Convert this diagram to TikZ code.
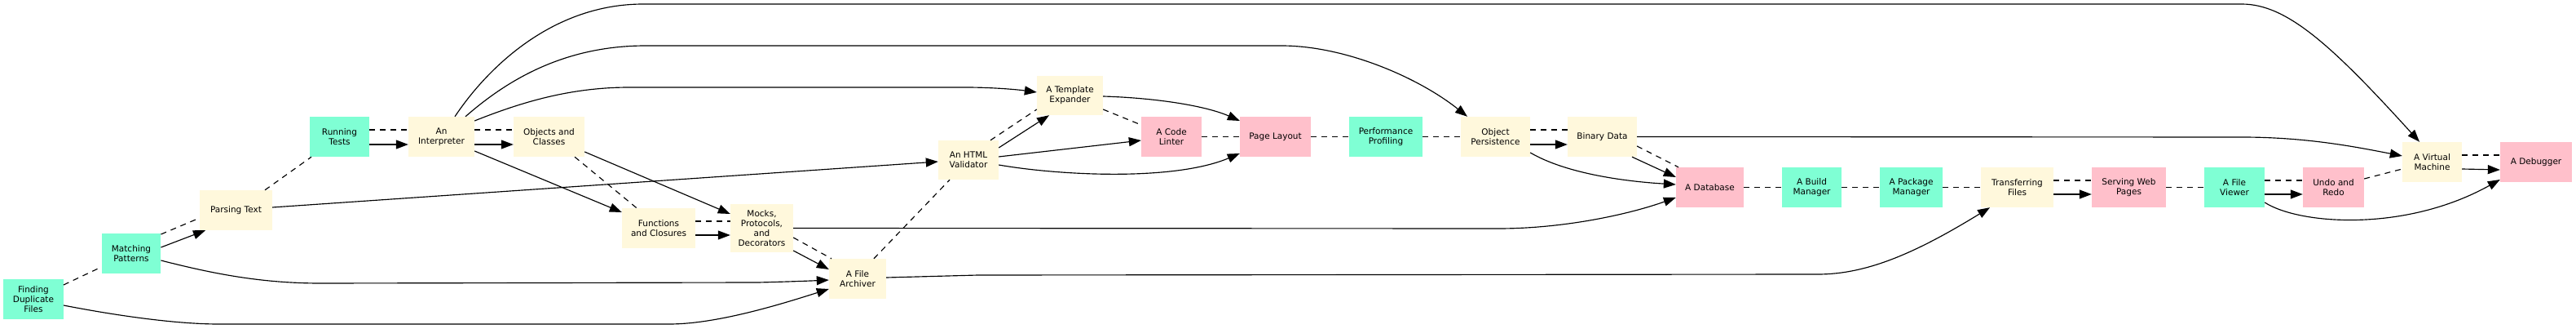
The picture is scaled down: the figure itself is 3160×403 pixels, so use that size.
\documentclass[tikz,border=0pt]{standalone}
\usepackage{fontspec}
\setmainfont{DejaVu Sans}
\usetikzlibrary{arrows.meta}
\definecolor{aqua}{HTML}{7FFFD4}
\definecolor{corn}{HTML}{FFF8DC}
\definecolor{pinkc}{HTML}{FFC0CB}
\begin{document}
\begin{tikzpicture}[x=1pt,y=-1pt,
  box/.style={rectangle, inner sep=0pt, minimum height=49pt, align=center, font=\fontsize{10.5}{12}\selectfont, text=black},
  aq/.style={box, fill=aqua},
  cs/.style={box, fill=corn},
  pk/.style={box, fill=pinkc},
  arr/.style={line width=1.15pt, -{Triangle[length=15pt,width=11pt]}},
  dsh/.style={line width=1.15pt, dash pattern=on 7pt off 6pt}]
\useasboundingbox (0,0) rectangle (3160,403);
% nodes
\node[aq, minimum width=73.5pt] (fdf) at (41,366.5) {Finding\\Duplicate\\Files};
\node[aq, minimum width=72.5pt] (mp) at (161,310.5) {Matching\\Patterns};
\node[cs, minimum width=89pt] (pt) at (289.5,257.5) {Parsing Text};
\node[aq, minimum width=73pt] (rt) at (416.5,167.5) {Running\\Tests};
\node[cs, minimum width=81pt] (ai) at (541.5,167.5) {An\\Interpreter};
\node[cs, minimum width=87pt] (oc) at (673.5,167.5) {Objects and\\Classes};
\node[cs, minimum width=90pt] (fc) at (808,279.5) {Functions\\and Closures};
\node[cs, minimum width=77pt, minimum height=59pt] (mk) at (934.5,279.5) {Mocks,\\Protocols,\\and\\Decorators};
\node[cs, minimum width=70pt] (fa) at (1052,341.5) {A File\\Archiver};
\node[cs, minimum width=74pt, minimum height=48pt] (html) at (1188,196) {An HTML\\Validator};
\node[cs, minimum width=81pt, minimum height=48pt] (te) at (1312.5,117) {A Template\\Expander};
\node[pk, minimum width=74pt] (cl) at (1437,167.5) {A Code\\Linter};
\node[pk, minimum width=87pt] (pl) at (1564.5,167.5) {Page Layout};
\node[aq, minimum width=90pt] (pp) at (1700,167.5) {Performance\\Profiling};
\node[cs, minimum width=85pt] (op) at (1834.5,167.5) {Object\\Persistence};
\node[cs, minimum width=85pt] (bd) at (1965.5,167.5) {Binary Data};
\node[pk, minimum width=83pt] (db) at (2097.5,229.5) {A Database};
\node[aq, minimum width=73pt] (bm) at (2222.5,229.5) {A Build\\Manager};
\node[aq, minimum width=77pt] (pm) at (2344.5,229.5) {A Package\\Manager};
\node[cs, minimum width=89pt] (tf) at (2474.5,229.5) {Transferring\\Files};
\node[pk, minimum width=91pt] (sw) at (2611.5,229.5) {Serving Web\\Pages};
\node[aq, minimum width=74pt] (fv) at (2741,229.5) {A File\\Viewer};
\node[pk, minimum width=75pt] (ur) at (2862.5,229.5) {Undo and\\Redo};
\node[cs, minimum width=73pt] (vm) at (2983.5,198.5) {A Virtual\\Machine};
\node[pk, minimum width=88pt] (dbg) at (3111,198.5) {A Debugger};
% dashed links
\draw[dsh] ([yshift=17.5pt]fdf.east) -- ([yshift=-16.5pt]mp.west);
\draw[dsh] ([yshift=23.5pt]mp.east) -- ([yshift=-9.5pt]pt.west);
\draw[dsh] ([xshift=35.5pt]pt.north) -- ([xshift=-34.5pt]rt.south);
\draw[dsh] ([yshift=8.5pt]rt.east) -- ([yshift=8.5pt]ai.west);
\draw[dsh] ([yshift=8.5pt]ai.east) -- ([yshift=8.5pt]oc.west);
\draw[dsh] ([xshift=31.5pt]oc.south) -- ([xshift=-27pt]fc.north);
\draw[dsh] ([yshift=8.5pt]fc.east) -- ([yshift=8.5pt]mk.west);
\draw[dsh] ([yshift=-11.5pt]mk.east) -- ([xshift=-32pt]fa.north);
\draw[dsh] ([xshift=20pt]fa.north) -- ([xshift=-23pt]html.south);
\draw[dsh] ([xshift=27pt]html.north) -- ([yshift=-17pt]te.west);
\draw[dsh] ([yshift=-17pt]te.east) -- ([yshift=14.5pt]cl.west);
\draw[dsh] (cl.east) -- (pl.west);
\draw[dsh] (pl.east) -- (pp.west);
\draw[dsh] (pp.east) -- (op.west);
\draw[dsh] ([yshift=8.5pt]op.east) -- ([yshift=8.5pt]bd.west);
\draw[dsh] ([yshift=-11.5pt]bd.east) -- ([xshift=-38.5pt]db.north);
\draw[dsh] (db.east) -- (bm.west);
\draw[dsh] (bm.east) -- (pm.west);
\draw[dsh] (pm.east) -- (tf.west);
\draw[dsh] ([yshift=8.5pt]tf.east) -- ([yshift=8.5pt]sw.west);
\draw[dsh] (sw.east) -- (fv.west);
\draw[dsh] ([yshift=8.5pt]fv.east) -- ([yshift=8.5pt]ur.west);
\draw[dsh] ([yshift=10.5pt]ur.east) -- ([yshift=-8.5pt]vm.west);
\draw[dsh] ([yshift=8.5pt]vm.east) -- ([yshift=8.5pt]dbg.west);
% arrows
\draw[arr] ([yshift=7.5pt]mp.east) -- ([xshift=-37.5pt]pt.south);
\draw[arr] ([yshift=-8.5pt]mp.east) .. controls (260,335) and (320,347) .. (393,347) -- (930,346) .. controls (970,345) and (995,344) .. ([yshift=-1.5pt]fa.west);
\draw[arr] ([yshift=-7.5pt]fdf.east) .. controls (150,388) and (220,397) .. (268,397) -- (821,397) .. controls (880,397) and (960,372) .. ([yshift=-12.5pt]fa.west);
\draw[arr] ([yshift=3.5pt]pt.east) -- ([yshift=-2pt]html.west);
\draw[arr] ([yshift=-9.5pt]rt.east) -- ([yshift=-9.5pt]ai.west);
\draw[arr] ([yshift=-9.5pt]ai.east) -- ([yshift=-9.5pt]oc.west);
\draw[arr] ([yshift=-17.5pt]ai.east) -- ([yshift=19.5pt]fc.west);
\draw[arr] ([yshift=-18.5pt]oc.east) -- ([yshift=17.5pt]mk.west);
\draw[arr] ([yshift=-8.5pt]fc.east) -- ([yshift=-8.5pt]mk.west);
\draw[arr] ([yshift=-27.5pt]mk.east) -- ([yshift=11.5pt]fa.west);
\draw[arr] (mk.east) -- (1838,280) .. controls (1920,280) and (2000,262) .. ([yshift=-12.5pt]db.west);
\draw[arr] ([yshift=19.5pt]ai.east) .. controls (640,125) and (700,107) .. (772,107) -- (1184,107) .. controls (1220,107) and (1250,110) .. ([yshift=4pt]te.west);
\draw[arr] ([xshift=29.5pt]ai.north) .. controls (620,100) and (690,56) .. (792,56) -- (1572,56) .. controls (1650,56) and (1740,95) .. ([xshift=-34.5pt]op.north);
\draw[arr] ([xshift=16.5pt]ai.north) .. controls (600,80) and (680,5) .. (789,5) -- (2750,5) .. controls (2805,5) and (2860,55) .. ([xshift=-15.5pt]vm.north);
\draw[arr] ([yshift=15pt]html.east) -- ([xshift=-25.5pt]te.south);
\draw[arr] ([yshift=4pt]html.east) -- ([yshift=-4.5pt]cl.west);
\draw[arr] ([yshift=-6pt]html.east) .. controls (1300,215) and (1440,222) .. ([yshift=-20.5pt]pl.west);
\draw[arr] ([yshift=-1pt]te.east) .. controls (1420,120) and (1480,130) .. ([yshift=19.5pt]pl.west);
\draw[arr] ([yshift=1.5pt]fa.east) -- (1200,337) -- (2230,336) .. controls (2290,336) and (2350,310) .. ([xshift=-33.5pt]tf.south);
\draw[arr] ([yshift=-9.5pt]op.east) -- ([yshift=-9.5pt]bd.west);
\draw[arr] ([yshift=-19.5pt]op.east) .. controls (1920,212) and (1990,222) .. ([yshift=3.5pt]db.west);
\draw[arr] ([xshift=36.5pt]bd.south) -- ([yshift=12.5pt]db.west);
\draw[arr] (bd.east) -- (2750,168) .. controls (2830,168) and (2890,180) .. ([yshift=7.5pt]vm.west);
\draw[arr] ([yshift=-8.5pt]tf.east) -- ([yshift=-8.5pt]sw.west);
\draw[arr] ([yshift=-8.5pt]fv.east) -- ([yshift=-8.5pt]ur.west);
\draw[arr] ([yshift=-18.5pt]fv.east) .. controls (2820,275) and (2950,285) .. ([yshift=-21.5pt]dbg.west);
\draw[arr] ([yshift=-8.5pt]vm.east) -- ([yshift=-9.5pt]dbg.west);
\end{tikzpicture}
\end{document}
